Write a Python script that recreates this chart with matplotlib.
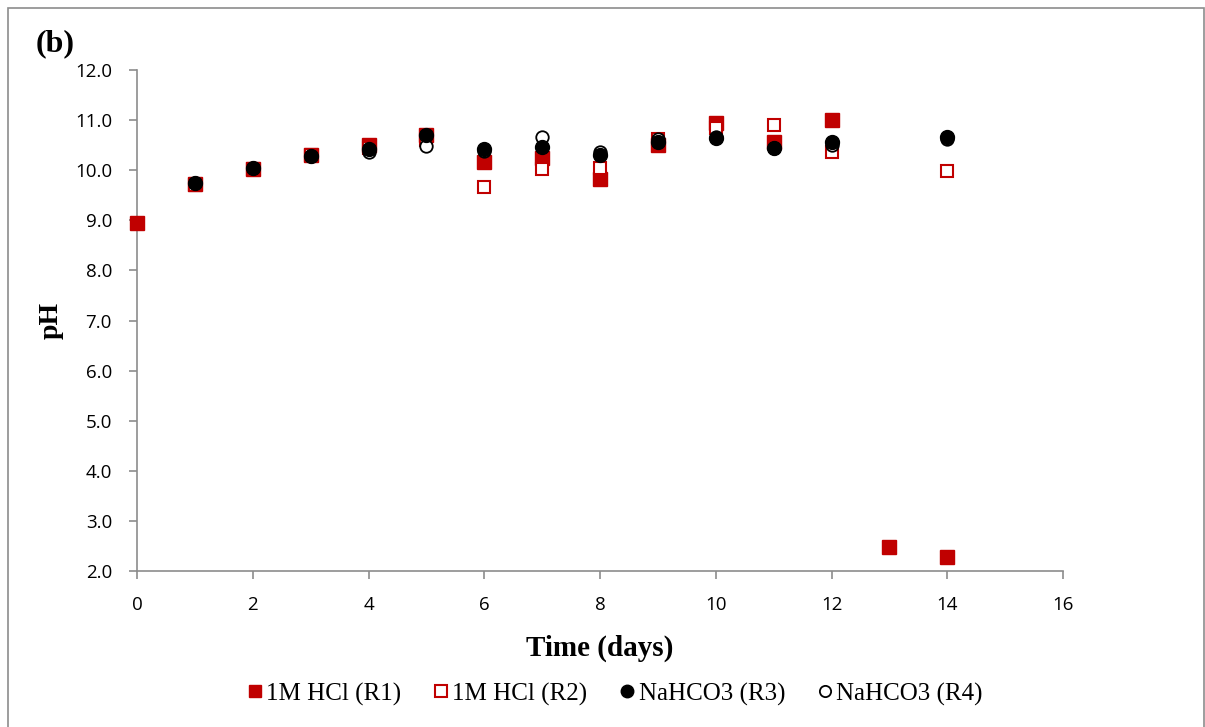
import matplotlib
matplotlib.use("Agg")
import matplotlib.pyplot as plt
from matplotlib.patches import Rectangle

days_r1 = [0, 1, 2, 3, 4, 5, 6, 7, 8, 9, 10, 11, 12, 13, 14]
ph_r1 = [8.95, 9.72, 10.03, 10.30, 10.50, 10.70, 10.16, 10.24, 9.82, 10.50, 10.94, 10.57, 11.00, 2.48, 2.28]

days_r2 = [1, 2, 3, 4, 5, 6, 7, 8, 9, 10, 11, 12, 14]
ph_r2 = [9.70, 10.02, 10.30, 10.45, 10.60, 9.67, 10.02, 10.04, 10.62, 10.85, 10.90, 10.37, 9.98]

days_r3 = [1, 2, 3, 4, 5, 6, 7, 8, 9, 10, 11, 12, 14]
ph_r3 = [9.74, 10.05, 10.28, 10.42, 10.70, 10.42, 10.46, 10.30, 10.57, 10.64, 10.45, 10.57, 10.67]

days_r4 = [1, 2, 3, 4, 5, 6, 7, 8, 9, 10, 11, 12, 14]
ph_r4 = [9.74, 10.05, 10.28, 10.37, 10.48, 10.38, 10.66, 10.37, 10.62, 10.66, 10.45, 10.50, 10.62]

labels = ["1M HCl (R1)", "1M HCl (R2)", "NaHCO3 (R3)", "NaHCO3 (R4)"]
xticks = [0, 2, 4, 6, 8, 10, 12, 14, 16]
yticks = [2, 3, 4, 5, 6, 7, 8, 9, 10, 11, 12]

red = "#C00000"
W, H = 1205, 727
fig = plt.figure(figsize=(W / 100, H / 100), dpi=100)
fig.patches.append(Rectangle((8 / W, -0.01), (W - 9) / W, 1 - 8 / H + 0.01,
                             transform=fig.transFigure, fill=False,
                             edgecolor="#8c8c8c", linewidth=1.2))
ax = fig.add_axes([137 / W, 156 / H, (1063 - 137) / W, (571 - 70) / H])

ms = 10
ax.plot(days_r1, ph_r1, linestyle="none", marker="s", markersize=ms,
        color=red, markeredgecolor=red, label=labels[0], zorder=3, clip_on=False)
ax.plot(days_r2, ph_r2, linestyle="none", marker="s", markersize=ms - 1,
        markerfacecolor="white", markeredgecolor=red, markeredgewidth=1.5,
        label=labels[1], zorder=4, clip_on=False)
ax.plot(days_r3, ph_r3, linestyle="none", marker="o", markersize=ms,
        color="black", label=labels[2], zorder=5, clip_on=False)
ax.plot(days_r4, ph_r4, linestyle="none", marker="o", markersize=ms - 1,
        markerfacecolor="white", markeredgecolor="black", markeredgewidth=1.3,
        label=labels[3], zorder=4.5, clip_on=False)

ax.set_xlim(0, 16)
ax.set_ylim(2, 12)
ax.set_xticks(xticks)
ax.set_yticks(yticks)
ax.set_yticklabels([f"{v:.1f}" for v in yticks])
for s in ["top", "right"]:
    ax.spines[s].set_visible(False)
for s in ["left", "bottom"]:
    ax.spines[s].set_color("#8c8c8c")
    ax.spines[s].set_linewidth(1.2)
ax.tick_params(direction="out", length=6, width=1.2, color="#8c8c8c",
               labelsize=13.5)
ax.tick_params(axis="y", pad=12)
ax.tick_params(axis="x", pad=12)
for lab in ax.get_xticklabels() + ax.get_yticklabels():
    lab.set_family("Open Sans")

ax.set_xlabel("Time (days)", family="Liberation Serif", fontweight="bold",
              fontsize=21, labelpad=15)
ax.set_ylabel("pH", family="Liberation Serif", fontweight="bold",
              fontsize=20, labelpad=8)

fig.text(36 / W, 1 - 44 / H, "(b)", family="Liberation Serif",
         fontweight="bold", fontsize=23, va="center", ha="left")

leg = fig.legend(loc="center", bbox_to_anchor=(615 / W, 1 - 694 / H), ncol=4,
                 frameon=False, prop={"family": "Liberation Serif", "size": 18},
                 handlelength=0.6, handletextpad=0.15, columnspacing=1.3,
                 markerscale=0.9)
plt.savefig("out.png", dpi=100)
